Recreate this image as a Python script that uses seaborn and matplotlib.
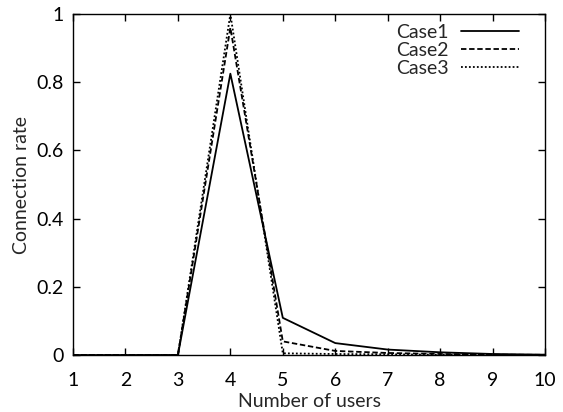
import matplotlib
matplotlib.use("Agg")
import matplotlib.pyplot as plt
import seaborn as sns
import pandas as pd

users = [1, 2, 3, 4, 5, 6, 7, 8, 9, 10]
case1 = [0, 0, 0, 0.825, 0.109, 0.035, 0.016, 0.008, 0.003, 0.001]
case2 = [0, 0, 0, 0.96, 0.040, 0.012, 0.006, 0.003, 0.001, 0.0005]
case3 = [0, 0, 0, 1.0, 0.005, 0.003, 0.002, 0.001, 0.0005, 0.0002]
case_names = ["Case1", "Case2", "Case3"]

sns.set_theme(style="ticks")
plt.rcParams["font.family"] = ["Lato", "DejaVu Sans"]

df = pd.DataFrame({"users": users * 3,
                   "rate": case1 + case2 + case3,
                   "case": sum([[n] * len(users) for n in case_names], [])})

fig = plt.figure(figsize=(5.63, 4.12), dpi=100)
ax = fig.add_axes([0.1297, 0.1383, 0.8384, 0.8277])

styles = {"Case1": "-", "Case2": (0, (3, 1.5)), "Case3": (0, (1, 1.2))}
for name in case_names:
    sub = df[df["case"] == name]
    sns.lineplot(data=sub, x="users", y="rate", ax=ax, color="black",
                 linewidth=1.3, linestyle=styles[name], label=name)

ax.set_xlim(1, 10)
ax.set_ylim(0, 1)
ax.set_xticks(range(1, 11))
ax.set_yticks([0, 0.2, 0.4, 0.6, 0.8, 1])
ax.set_yticklabels(["0", "0.2", "0.4", "0.6", "0.8", "1"])
ax.tick_params(direction="in", top=True, right=True, length=5, width=1,
               labelsize=14, colors="black")
ax.tick_params(axis="x", pad=12)
ax.tick_params(axis="y", pad=7)
for s in ax.spines.values():
    s.set_visible(True)
    s.set_linewidth(1.0)
    s.set_color("black")
ax.set_xlabel("Number of users", fontsize=14, labelpad=3)
ax.set_ylabel("Connection rate", fontsize=14, labelpad=4)

leg = ax.legend(loc="upper right", frameon=False, markerfirst=False,
                fontsize=14, handlelength=2.95, labelspacing=0.05,
                borderaxespad=0.1, handletextpad=0.67,
                bbox_to_anchor=(0.965, 1.0))

fig.savefig("out.png", dpi=100)
